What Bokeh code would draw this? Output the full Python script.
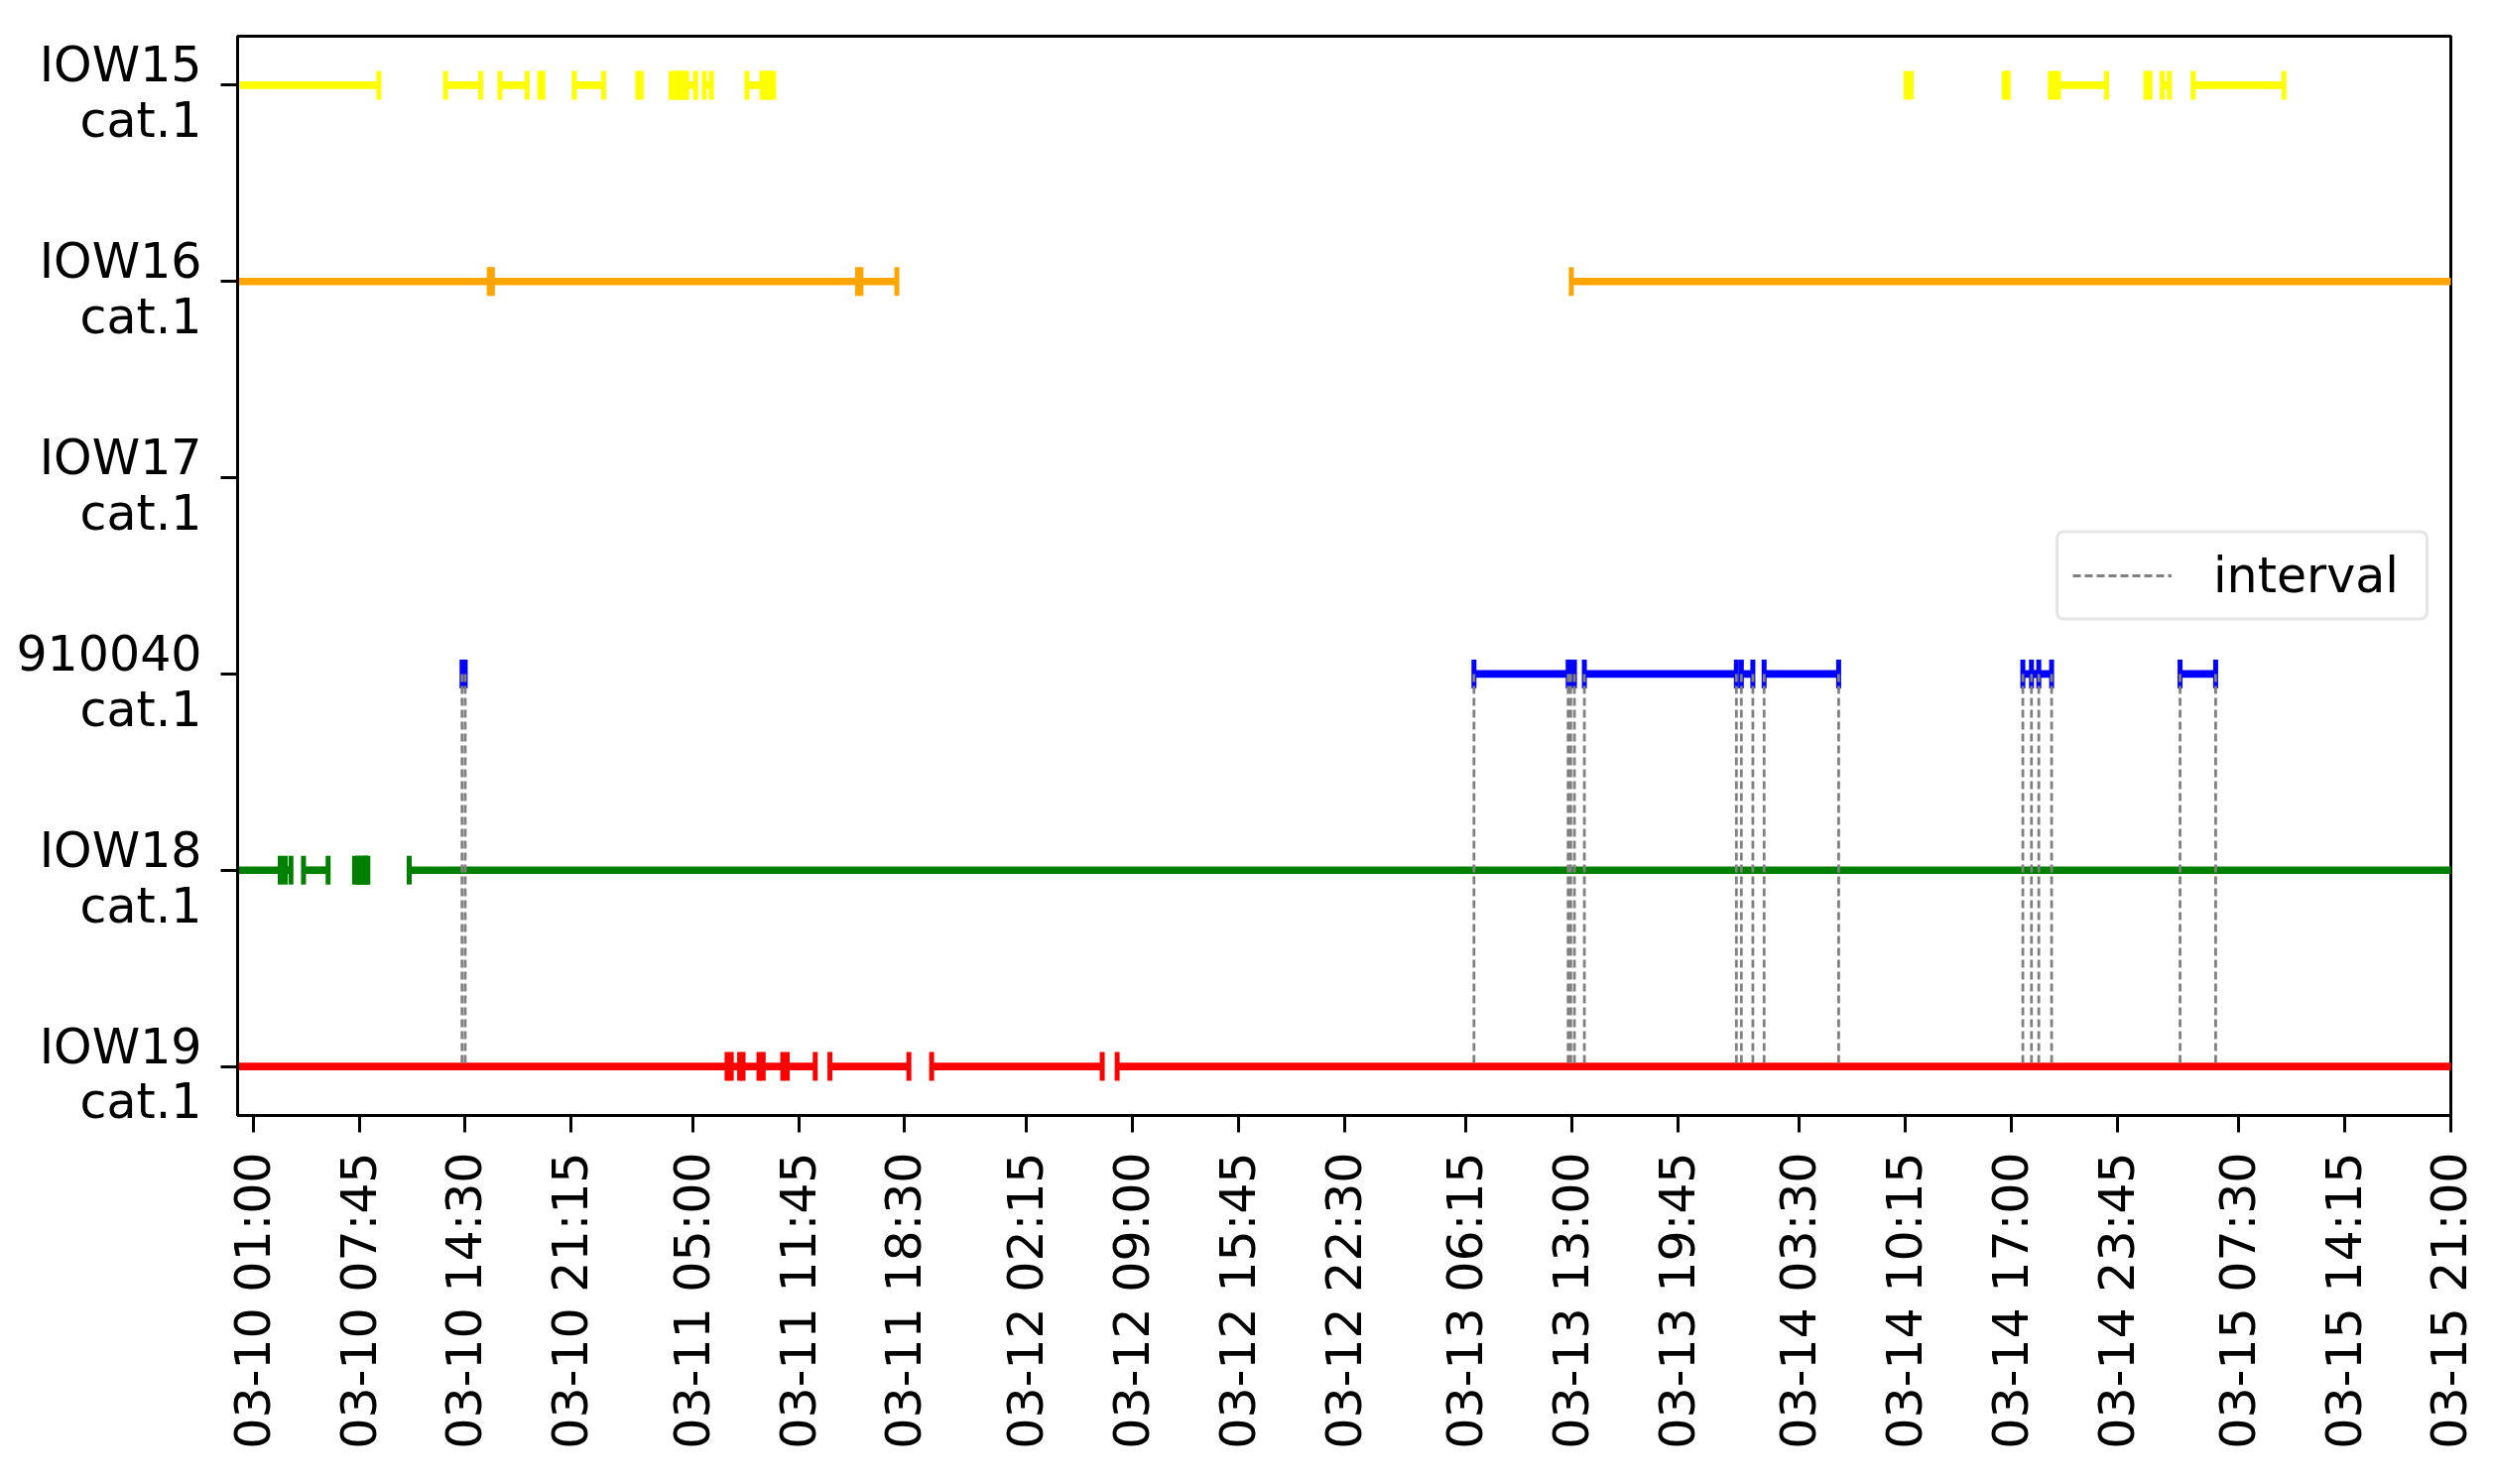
import numpy as np
import pandas as pd
from bokeh.plotting import figure
from bokeh.models import Range1d, FixedTicker, Legend, LegendItem, LinearAxis
from bokeh.embed import file_html
from bokeh.resources import INLINE

YEAR = "2021"

# stations, top to bottom
ROWS = ["IOW15", "IOW16", "IOW17", "910040", "IOW18", "IOW19"]
ROW_SUFFIX = "cat.1"
ROW_COLORS = ["#ffff00", "#ffa500", "#000000", "#0000ff", "#008000", "#ff0000"]

# intervals (start / end), month-day hour:minute
IOW15_START = ["03-09 22:00", "03-10 13:15", "03-10 16:43", "03-10 19:15", "03-10 21:27",
               "03-11 01:30", "03-11 03:37", "03-11 03:57", "03-11 04:18", "03-11 04:37",
               "03-11 05:44", "03-11 08:27", "03-11 09:30", "03-11 09:53",
               "03-14 10:18", "03-14 16:33", "03-14 19:29", "03-14 20:00",
               "03-15 01:35", "03-15 02:37", "03-15 04:35"]
IOW15_END = ["03-10 09:00", "03-10 15:29", "03-10 18:27", "03-10 19:27", "03-10 23:19",
             "03-11 01:43", "03-11 03:53", "03-11 04:13", "03-11 04:33", "03-11 05:11",
             "03-11 06:11", "03-11 09:24", "03-11 09:48", "03-11 10:09",
             "03-14 10:37", "03-14 16:48", "03-14 19:45", "03-14 23:04",
             "03-15 01:50", "03-15 03:04", "03-15 10:22"]

IOW16_START = ["03-09 22:00", "03-10 16:14", "03-11 15:43", "03-13 12:58"]
IOW16_END = ["03-10 16:02", "03-11 15:30", "03-11 18:00", "03-15 23:00"]

IOW17_START = []
IOW17_END = []

ST910040_START = ["03-10 14:18", "03-13 06:46", "03-13 12:56", "03-13 13:48", "03-13 23:48",
                  "03-14 01:15", "03-14 17:44", "03-14 18:17", "03-15 03:45"]
ST910040_END = ["03-10 14:30", "03-13 12:46", "03-13 13:10", "03-13 23:29", "03-14 00:32",
                "03-14 06:00", "03-14 18:45", "03-14 19:34", "03-15 06:01"]

IOW18_START = ["03-09 22:00", "03-10 03:02", "03-10 04:12", "03-10 07:27", "03-10 07:43",
               "03-10 07:59", "03-10 08:11", "03-10 10:56"]
IOW18_END = ["03-10 02:43", "03-10 03:24", "03-10 05:46", "03-10 07:39", "03-10 07:55",
             "03-10 08:09", "03-10 08:18", "03-15 23:00"]

IOW19_START = ["03-09 22:00", "03-11 07:27", "03-11 08:12", "03-11 09:29", "03-11 11:01",
               "03-11 13:44", "03-11 20:13", "03-12 08:02"]
IOW19_END = ["03-11 07:11", "03-11 07:59", "03-11 09:13", "03-11 10:44", "03-11 12:48",
             "03-11 18:46", "03-12 07:05", "03-15 23:00"]

X_START = "03-10 00:00"
X_END = "03-15 21:00"
X_TICK_LABELS = ["03-10 01:00", "03-10 07:45", "03-10 14:30", "03-10 21:15", "03-11 05:00",
                 "03-11 11:45", "03-11 18:30", "03-12 02:15", "03-12 09:00", "03-12 15:45",
                 "03-12 22:30", "03-13 06:15", "03-13 13:00", "03-13 19:45", "03-14 03:30",
                 "03-14 10:15", "03-14 17:00", "03-14 23:45", "03-15 07:30", "03-15 14:15",
                 "03-15 21:00"]
LEGEND_LABEL = "interval"

FONT = "DejaVu Sans"
FS = "49px"


def ms(s):
    return int(pd.Timestamp(f"{YEAR}-{s}").value // 10**6)


starts = [IOW15_START, IOW16_START, IOW17_START, ST910040_START, IOW18_START, IOW19_START]
ends = [IOW15_END, IOW16_END, IOW17_END, ST910040_END, IOW18_END, IOW19_END]
n = len(ROWS)
ypos = {name: n - 1 - i for i, name in enumerate(ROWS)}

p = figure(frame_width=2231, frame_height=1088,
           x_axis_type="datetime", output_backend="svg", toolbar_location=None,
           x_range=Range1d(ms(X_START), ms(X_END)),
           y_range=Range1d(-0.25, n - 1 + 0.25))
p.min_border_left = 239
p.min_border_right = 27
p.min_border_top = 36
p.min_border_bottom = 350
p.background_fill_color = "white"
p.border_fill_color = "white"
p.xgrid.visible = False
p.ygrid.visible = False
p.outline_line_color = "black"
p.outline_line_width = 3
p.outline_line_alpha = 1

for name, color, st, en in zip(ROWS, ROW_COLORS, starts, ends):
    if not st:
        continue
    y = ypos[name]
    x0 = [ms(s) for s in st]
    x1 = [ms(e) for e in en]
    p.segment(x0=x0, y0=[y] * len(x0), x1=x1, y1=[y] * len(x1),
              line_color=color, line_width=7.7)
    p.scatter(x=x0 + x1, y=[y] * (2 * len(x0)), marker="dash", angle=np.pi / 2,
              size=29, line_width=5, line_color=color, fill_color=color)

# dashed links from 910040 interval bounds to IOW19
bx = [ms(s) for s in ST910040_START] + [ms(e) for e in ST910040_END]
yb = ypos["910040"]
yr = ypos["IOW19"]
dash_r = p.segment(x0=bx, y0=[yb] * len(bx), x1=bx, y1=[yr] * len(bx),
                   line_color="gray", line_width=2.8, line_dash="8 4")

legend = Legend(items=[LegendItem(label=LEGEND_LABEL, renderers=[dash_r])],
                location="center_right")
legend.label_text_font = FONT
legend.label_text_font_size = FS
legend.label_text_color = "black"
legend.glyph_width = 100
legend.glyph_height = 49
legend.label_height = 49
legend.label_width = 200
legend.label_standoff = 42
legend.padding = 14
legend.margin = 22
legend.border_line_color = "#cccccc"
legend.border_line_width = 3
legend.border_radius = 8
legend.background_fill_alpha = 0.8
p.add_layout(legend)

# x axis
xt = [ms(s) for s in X_TICK_LABELS]
p.xaxis.ticker = FixedTicker(ticks=xt)
p.xaxis.major_label_overrides = {t: lab for t, lab in zip(xt, X_TICK_LABELS)}
p.xaxis.major_label_orientation = np.pi / 2
p.xaxis.major_label_standoff = 20

# y axis: tick marks on the main axis, two-line labels on a slightly shifted axis
yt = [ypos[name] for name in ROWS]
p.yaxis.ticker = FixedTicker(ticks=yt)
p.yaxis.major_label_overrides = {ypos[name]: "" for name in ROWS}
p.yaxis.major_label_standoff = 0

shift = 0.04
p.extra_y_ranges = {"labels": Range1d(-0.25 + shift, n - 1 + 0.25 + shift)}
lab_axis = LinearAxis(y_range_name="labels", ticker=FixedTicker(ticks=yt),
                      major_label_overrides={ypos[name]: f"{name}\n{ROW_SUFFIX}" for name in ROWS})
lab_axis.axis_line_color = None
lab_axis.major_tick_line_color = None
lab_axis.minor_tick_line_color = None
lab_axis.major_tick_out = 0
lab_axis.major_tick_in = 0
lab_axis.minor_tick_out = 0
lab_axis.minor_tick_in = 0
lab_axis.major_label_standoff = 19
lab_axis.major_label_text_font = FONT
lab_axis.major_label_text_font_size = FS
lab_axis.major_label_text_color = "black"
lab_axis.major_label_text_line_height = 0.98
p.add_layout(lab_axis, "left")

for ax in (p.xaxis[0], p.yaxis[0]):
    ax.major_label_text_font = FONT
    ax.major_label_text_font_size = FS
    ax.major_label_text_color = "black"
    ax.axis_line_width = 3
    ax.axis_line_color = "black"
    ax.major_tick_line_width = 3
    ax.major_tick_line_color = "black"
    ax.major_tick_out = 17
    ax.major_tick_in = 0
    ax.minor_tick_out = 0
    ax.minor_tick_in = 0
    ax.minor_tick_line_color = None

open("out.html", "w").write(file_html(p, INLINE))
